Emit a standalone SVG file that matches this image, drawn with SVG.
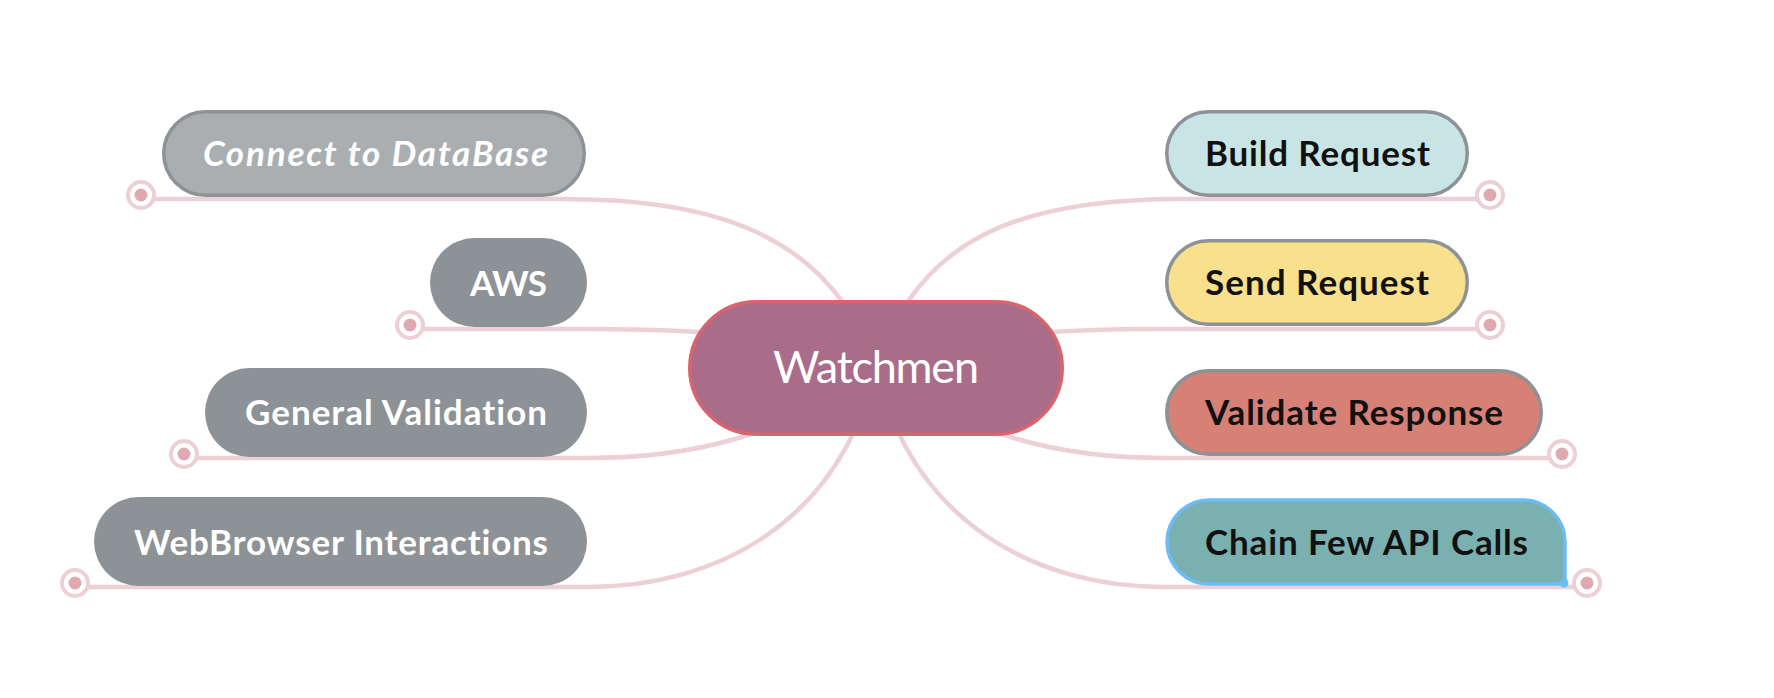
<svg xmlns="http://www.w3.org/2000/svg" xmlns:xlink="http://www.w3.org/1999/xlink" width="1774" height="698" viewBox="0 0 1774 698">
  <style>
    .link { fill: none; stroke: #ecd0d6; stroke-width: 4.5; stroke-linecap: round; }
    .ring { fill: #ffffff; stroke: #ecd0d6; stroke-width: 4; }
    .pip { fill: #dfa9b1; }
    .gray { fill: #8c9296; }
    .lbl { font-family: Lato, "Open Sans", "Liberation Sans", sans-serif; font-weight: 700; font-size: 35px; font-variant-ligatures: none; }
    .lbl-w { fill: #ffffff; }
    .lbl-k { fill: #111111; }
    .edge { stroke: #8c9296; stroke-width: 3.5; }
  </style>
  <defs>
    <g id="knob">
      <circle class="ring" cx="0" cy="0" r="13"/>
      <circle class="pip" cx="0" cy="0" r="6.5"/>
    </g>
  </defs>

  <rect width="1774" height="698" fill="#ffffff"/>

  <!-- branches from the root, drawn beneath the nodes -->
  <g id="connectors">
    <path class="link" d="M 141 199 H 560 C 700 199, 828 226, 876 368"/>
    <path class="link" d="M 410 329 H 587 C 700 329, 800 335, 876 368"/>
    <path class="link" d="M 184 458 H 587 C 690 458, 780 438, 876 368"/>
    <path class="link" d="M 75 587 H 587 C 720 587, 840 520, 876 368"/>
    <path class="link" d="M 876 368 C 918 238, 1020 199, 1180 199 H 1490"/>
    <path class="link" d="M 876 368 C 950 335, 1050 329, 1165 329 H 1490"/>
    <path class="link" d="M 876 368 C 972 438, 1062 458, 1165 458 H 1562"/>
    <path class="link" d="M 876 368 C 912 520, 1032 587, 1165 587 H 1587"/>
    <use href="#knob" x="141" y="195"/>
    <use href="#knob" x="410" y="325"/>
    <use href="#knob" x="184" y="454"/>
    <use href="#knob" x="75" y="583"/>
    <use href="#knob" x="1490" y="195"/>
    <use href="#knob" x="1490" y="325"/>
    <use href="#knob" x="1562" y="454"/>
    <use href="#knob" x="1587" y="583"/>
  </g>

  <g id="node-watchmen">
    <rect x="689.75" y="301.75" width="372.5" height="132.5" rx="66.25" fill="#a96d8a" stroke="#d9636f" stroke-width="3.5"/>
    <text x="876" y="383" text-anchor="middle" font-family="Lato, 'Open Sans', 'Liberation Sans', sans-serif" font-size="45" fill="#ffffff" textLength="206" lengthAdjust="spacing">Watchmen</text>
  </g>

  <g id="node-connect-db">
    <rect class="edge" x="163.75" y="111.75" width="420.5" height="83.5" rx="41.75" fill="#aaaeb1"/>
    <text class="lbl lbl-w" x="203" y="166" font-style="italic" textLength="345" lengthAdjust="spacing">Connect to DataBase</text>
  </g>

  <g id="node-aws">
    <rect class="gray" x="430" y="238" width="157" height="89" rx="44.5"/>
    <text class="lbl lbl-w" x="470" y="295.5" textLength="77" lengthAdjust="spacing">AWS</text>
  </g>

  <g id="node-general-validation">
    <rect class="gray" x="205" y="368" width="382" height="89" rx="44.5"/>
    <text class="lbl lbl-w" x="245" y="425" textLength="302" lengthAdjust="spacing">General Validation</text>
  </g>

  <g id="node-webbrowser">
    <rect class="gray" x="94" y="497" width="493" height="89" rx="44.5"/>
    <text class="lbl lbl-w" x="134" y="554.5" textLength="414" lengthAdjust="spacing">WebBrowser Interactions</text>
  </g>

  <g id="node-build-request">
    <rect class="edge" x="1166.75" y="111.75" width="300.5" height="83.5" rx="41.75" fill="#c9e4e5"/>
    <text class="lbl lbl-k" x="1205" y="166" textLength="225" lengthAdjust="spacing">Build Request</text>
  </g>

  <g id="node-send-request">
    <rect class="edge" x="1166.75" y="240.75" width="300.5" height="83.5" rx="41.75" fill="#f9e08c"/>
    <text class="lbl lbl-k" x="1205" y="295" textLength="224" lengthAdjust="spacing">Send Request</text>
  </g>

  <g id="node-validate-response">
    <rect class="edge" x="1166.75" y="370.75" width="374.5" height="83.5" rx="41.75" fill="#d68076"/>
    <text class="lbl lbl-k" x="1205" y="425" textLength="298" lengthAdjust="spacing">Validate Response</text>
  </g>

  <g id="node-chain-calls">
    <path d="M 1209 500 H 1523 A 42 42 0 0 1 1565 542 V 584 H 1209 A 42 42 0 0 1 1167 542 A 42 42 0 0 1 1209 500 Z" fill="#7bb0b0" stroke="#6cbdf5" stroke-width="3.5"/>
    <circle cx="1564" cy="583" r="4.5" fill="#6cbdf5"/>
    <text class="lbl lbl-k" x="1205" y="554.5" textLength="323" lengthAdjust="spacing">Chain Few API Calls</text>
  </g>
</svg>
